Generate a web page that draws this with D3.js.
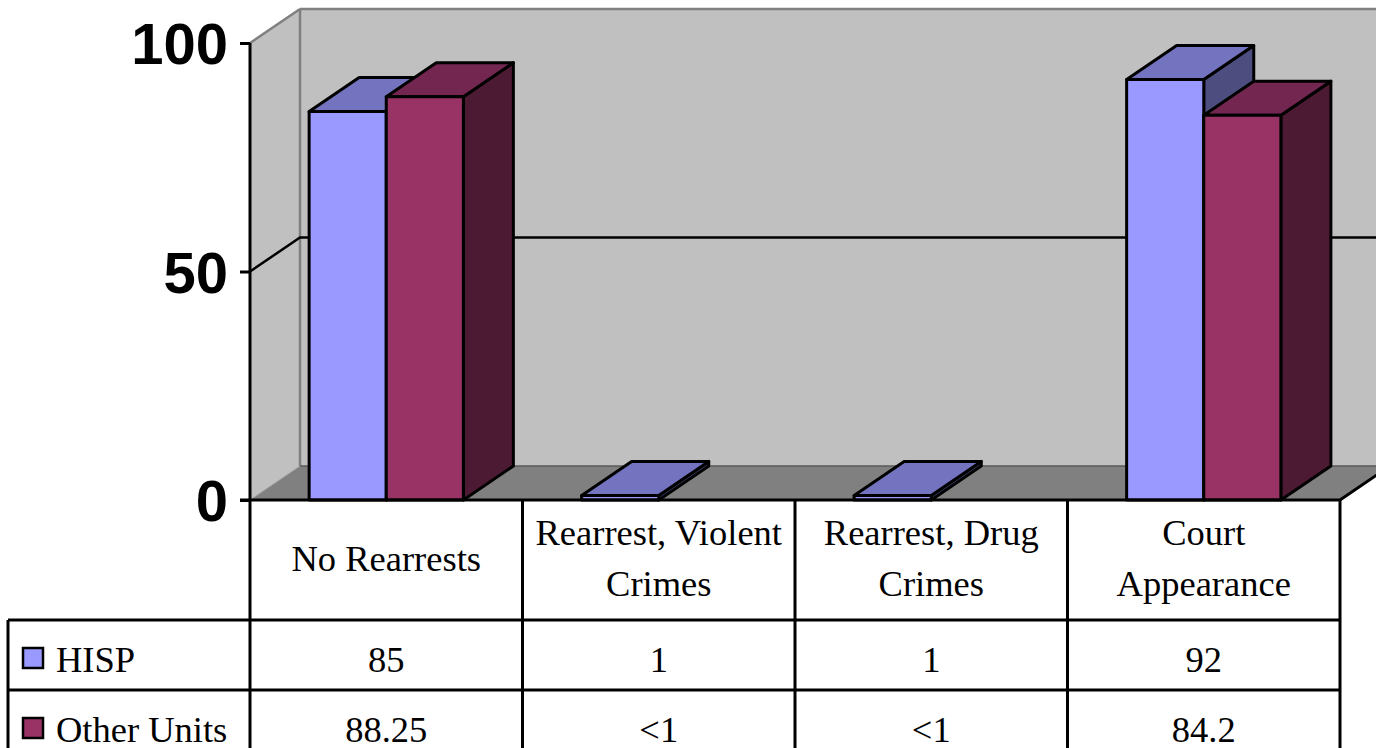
<!DOCTYPE html>
<html>
<head>
<meta charset="utf-8">
<script src="https://cdn.jsdelivr.net/npm/d3@7"></script>
<style>
  html, body { margin: 0; padding: 0; background: #ffffff; }
  svg { display: block; }
</style>
</head>
<body>
<svg id="chart" width="1376" height="748"></svg>
<script>
// Outcome categories (two-line labels in the data table header)
const categories = ["No Rearrests", "Rearrest, Violent Crimes", "Rearrest, Drug Crimes", "Court Appearance"];
const categoryLines = [["No Rearrests"], ["Rearrest, Violent", "Crimes"], ["Rearrest, Drug", "Crimes"], ["Court", "Appearance"]];
const seriesNames = ["HISP", "Other Units"];
// Percentages; null marks a value reported only as "<1"
const hispValues = [85, 1, 1, 92];
const otherValues = [88.25, null, null, 84.2];
const yTicks = [0, 50, 100];

const seriesValues = [hispValues, otherValues];
const palette = {
  "HISP":        { front: "#9999ff", top: "#7373bf", side: "#4d4d80" },
  "Other Units": { front: "#993366", top: "#732650", side: "#4d1a33" }
};

const svg = d3.select("#chart");
const W = 1376;
const plotLeft = 250, plotRight = 1340;
const floorY = 500, topY = 43;
const DX = 50, DY = -34;        // oblique depth offset

const y = d3.scaleLinear().domain([0, 100]).range([floorY, topY]);
const x0 = d3.scaleBand().domain(categories).range([plotLeft, plotRight]).padding(0);
const barW = x0.bandwidth() * 0.283;
const x1 = d3.scaleBand().domain(seriesNames)
  .range([x0.bandwidth() / 2 - barW, x0.bandwidth() / 2 + barW]).padding(0);

const poly = pts => "M" + pts.map(p => p.join(",")).join("L") + "Z";

// ---- walls ----
const walls = svg.append("g");
// back wall
walls.append("path")
  .attr("d", poly([[plotLeft + DX, y(100) + DY], [plotRight + DX + 60, y(100) + DY],
                   [plotRight + DX + 60, y(0) + DY], [plotLeft + DX, y(0) + DY]]))
  .attr("fill", "#c0c0c0");
// side wall
walls.append("path")
  .attr("d", poly([[plotLeft, y(100)], [plotLeft + DX, y(100) + DY],
                   [plotLeft + DX, y(0) + DY], [plotLeft, y(0)]]))
  .attr("fill", "#c0c0c0");
// floor
walls.append("path")
  .attr("d", poly([[plotLeft, y(0)], [plotRight, y(0)],
                   [plotRight + DX, y(0) + DY], [plotLeft + DX, y(0) + DY]]))
  .attr("fill", "#808080");

// wall edges
const edge = "#808080";
walls.append("line").attr("x1", plotLeft).attr("y1", y(100)).attr("x2", plotLeft + DX).attr("y2", y(100) + DY)
  .attr("stroke", edge).attr("stroke-width", 2.5);
walls.append("line").attr("x1", plotLeft + DX).attr("y1", y(100) + DY).attr("x2", W + 20).attr("y2", y(100) + DY)
  .attr("stroke", edge).attr("stroke-width", 2.5);
walls.append("line").attr("x1", plotLeft + DX).attr("y1", y(100) + DY).attr("x2", plotLeft + DX).attr("y2", y(0) + DY)
  .attr("stroke", edge).attr("stroke-width", 2.5);
walls.append("line").attr("x1", plotLeft + DX).attr("y1", y(0) + DY).attr("x2", W + 20).attr("y2", y(0) + DY)
  .attr("stroke", "#5a5a5a").attr("stroke-width", 1.5);
walls.append("line").attr("x1", plotLeft).attr("y1", y(0)).attr("x2", plotLeft + DX).attr("y2", y(0) + DY)
  .attr("stroke", "#a0a0a0").attr("stroke-width", 1);

// gridline at 50 across side wall and back wall
yTicks.filter(t => t > 0 && t < 100).forEach(t => {
  walls.append("path")
    .attr("d", `M${plotLeft},${y(t)}L${plotLeft + DX},${y(t) + DY}L${W + 20},${y(t) + DY}`)
    .attr("fill", "none").attr("stroke", "#000").attr("stroke-width", 2.5);
});

// ---- bars ----
const bars = svg.append("g")
  .attr("stroke", "#000").attr("stroke-width", 3).attr("stroke-linejoin", "round");
categories.forEach((cat, ci) => {
  seriesNames.forEach((s, si) => {
    const v = seriesValues[si][ci];
    if (v == null) return;
    const xl = x0(cat) + x1(s), xr = xl + x1.bandwidth();
    const yt = y(v), yb = y(0);
    const c = palette[s];
    const g = bars.append("g");
    g.append("path").attr("fill", c.side)
      .attr("d", poly([[xr, yt], [xr + DX, yt + DY], [xr + DX, yb + DY], [xr, yb]]));
    g.append("path").attr("fill", c.top)
      .attr("d", poly([[xl, yt], [xr, yt], [xr + DX, yt + DY], [xl + DX, yt + DY]]));
    g.append("path").attr("fill", c.front)
      .attr("d", poly([[xl, yt], [xr, yt], [xr, yb], [xl, yb]]));
  });
});

// floor front and right edges
svg.append("path")
  .attr("d", `M${plotLeft - 10},${y(0)}L${plotRight},${y(0)}L${plotRight + DX},${y(0) + DY}`)
  .attr("fill", "none").attr("stroke", "#000").attr("stroke-width", 3);

// ---- value axis ----
const axisG = svg.append("g");
axisG.append("line").attr("x1", plotLeft).attr("x2", plotLeft).attr("y1", y(100)).attr("y2", y(0))
  .attr("stroke", "#000").attr("stroke-width", 3);
const axis = d3.axisLeft(y).tickValues(yTicks).tickSize(10).tickPadding(12).tickFormat(d3.format("d"));
const ag = svg.append("g").attr("transform", `translate(${plotLeft},0)`).call(axis);
ag.select(".domain").remove();
ag.selectAll(".tick line").attr("stroke", "#000").attr("stroke-width", 3);
ag.selectAll(".tick text")
  .attr("font-family", "'Liberation Sans', Arial, sans-serif")
  .attr("font-weight", "bold").attr("font-size", 58).attr("fill", "#000")
  .attr("dy", "0.36em");

// ---- data table ----
const table = svg.append("g");
const font = "'Liberation Serif', 'Times New Roman', serif";
const fs = 36.5;
const headerTop = 500, rowTops = [620, 690], rowH = 70;
const legendLeft = 8;

// header text
categories.forEach((cat, ci) => {
  const lines = categoryLines[ci];
  const cx = x0(cat) + x0.bandwidth() / 2;
  const cy = (headerTop + rowTops[0]) / 2 - 2;
  const lh = 51;
  lines.forEach((ln, li) => {
    table.append("text")
      .attr("x", cx).attr("y", cy + (li - (lines.length - 1) / 2) * lh)
      .attr("text-anchor", "middle").attr("dominant-baseline", "central")
      .attr("font-family", font).attr("font-size", fs).attr("fill", "#000")
      .text(ln);
  });
});

// value rows with legend keys
seriesNames.forEach((s, si) => {
  const top = rowTops[si];
  const cy = top + rowH / 2 + 4;
  table.append("rect")
    .attr("x", 23).attr("y", cy - 11).attr("width", 20).attr("height", 20)
    .attr("fill", palette[s].front).attr("stroke", "#000").attr("stroke-width", 2.5);
  table.append("text")
    .attr("x", 56).attr("y", cy).attr("dominant-baseline", "central")
    .attr("font-family", font).attr("font-size", fs).attr("fill", "#000")
    .text(s);
  categories.forEach((cat, ci) => {
    const v = seriesValues[si][ci];
    table.append("text")
      .attr("x", x0(cat) + x0.bandwidth() / 2).attr("y", cy)
      .attr("text-anchor", "middle").attr("dominant-baseline", "central")
      .attr("font-family", font).attr("font-size", fs).attr("fill", "#000")
      .text(v == null ? "<1" : String(v));
  });
});

// table grid
const gl = table.append("g").attr("stroke", "#000").attr("stroke-width", 3).attr("fill", "none");
const bottom = rowTops[1] + rowH + 10;
// horizontal lines
gl.append("line").attr("x1", legendLeft).attr("x2", plotRight).attr("y1", rowTops[0]).attr("y2", rowTops[0]);
gl.append("line").attr("x1", legendLeft).attr("x2", plotRight).attr("y1", rowTops[1]).attr("y2", rowTops[1]);
// vertical lines
gl.append("line").attr("x1", legendLeft).attr("x2", legendLeft).attr("y1", rowTops[0]).attr("y2", bottom);
x0.domain().forEach(cat => {
  gl.append("line").attr("x1", x0(cat)).attr("x2", x0(cat)).attr("y1", headerTop).attr("y2", bottom);
});
gl.append("line").attr("x1", plotRight).attr("x2", plotRight).attr("y1", headerTop).attr("y2", bottom);
</script>
</body>
</html>
